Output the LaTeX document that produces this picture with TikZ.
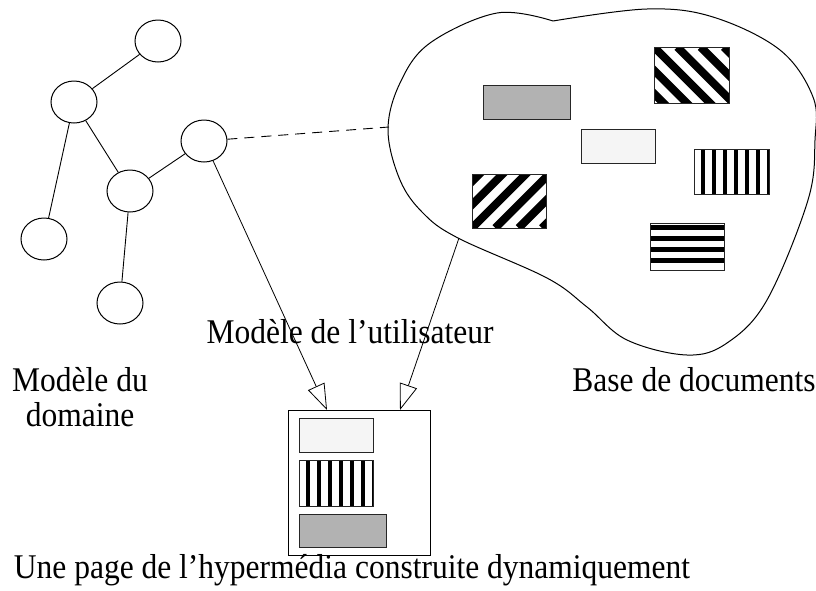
\documentclass[tikz,border=0pt]{standalone}
\usepackage{fontspec}
\usepackage{graphicx}
\setmainfont{Liberation Serif}
\usetikzlibrary{shapes.geometric,arrows.meta}
\newcommand{\talltext}[1]{\scalebox{1}[1.1]{#1}}
\begin{document}
\begin{tikzpicture}[x=1pt,y=-1pt,
  circ/.style={ellipse,draw,line width=1pt,minimum width=46pt,minimum height=42pt,inner sep=0pt},
  edge/.style={line width=0.9pt},
  doc/.style={rectangle,draw=black!85,line width=0.9pt,inner sep=0pt},
  grayfill/.style={fill=black!30},
  lightfill/.style={fill=black!4},
  lbl/.style={font=\fontsize{31.5}{35}\selectfont,inner sep=0pt},
  arr/.style={line width=0.8pt,-{Triangle[open,length=26pt,width=18pt]}},
  vstripes/.style={path picture={\foreach \k in {0,...,6}{\fill[black] ([shift={({6.7+11*\k},0)}]path picture bounding box.north west) rectangle ++(4.7,80);}}},
  hstripes/.style={path picture={\foreach \k in {0,...,3}{\fill[black] ([shift={(0,{2+11*\k})}]path picture bounding box.north west) rectangle ++(90,5);}}},
  dstripesdown/.style={path picture={\foreach \k in {-3,...,4}{\draw[black,line width=8pt] ([shift={({23.3*\k},0)}]path picture bounding box.north west) -- ++(100,100);}}},
  dstripesup/.style={path picture={\foreach \k in {-3,...,4}{\draw[black,line width=8pt] ([shift={({23.3*\k},0)}]path picture bounding box.south west) -- ++(100,-100);}}}
]
\useasboundingbox (0,0) rectangle (816,590);

% domain model graph
\node[circ] (c1) at (158,41) {};
\node[circ] (c2) at (74,102) {};
\node[circ] (c3) at (204,141) {};
\node[circ] (c4) at (130,191) {};
\node[circ] (c5) at (44,239) {};
\node[circ] (c6) at (120,303) {};
\draw[edge] (c1) -- (c2);
\draw[edge] (c2) -- (c5);
\draw[edge] (c2) -- (c4);
\draw[edge] (c4) -- (c3);
\draw[edge] (c4) -- (c6);

% document base blob
\draw[line width=1pt] plot[smooth,tension=0.6] coordinates {(553,21) (647,9) (713,17) (780,50) (813,97) (815,140) (808,200) (767,300) (727,343) (687,355) (627,340) (587,307) (547,278) (458,238) (423,213) (400,180) (388,130) (400,83) (430,43) (497,13) (553,21)};
\coordinate (b1) at (389,127);
\coordinate (b2) at (459,238);

\node[doc,grayfill,minimum width=87pt,minimum height=34pt] (g1) at (526.5,102) {};
\node[doc,fill=white,dstripesdown,minimum width=75pt,minimum height=56pt] (d1) at (691.5,75) {};
\node[doc,lightfill,minimum width=74pt,minimum height=34pt] (l1) at (618,146) {};
\node[doc,fill=white,vstripes,minimum width=75pt,minimum height=45pt] (v1) at (731.5,171.5) {};
\node[doc,fill=white,dstripesup,minimum width=74pt,minimum height=54pt] (d2) at (509,201) {};
\node[doc,fill=white,hstripes,minimum width=74pt,minimum height=47pt] (h1) at (687,246.5) {};

% dynamic page
\node[rectangle,draw,line width=1pt,minimum width=142pt,minimum height=145pt,inner sep=0pt] (page) at (359,482.5) {};
\node[doc,lightfill,minimum width=74pt,minimum height=34pt] (l2) at (336,435) {};
\node[doc,fill=white,vstripes,minimum width=74pt,minimum height=46pt] (v2) at (336,483) {};
\node[doc,grayfill,minimum width=87pt,minimum height=33pt] (g2) at (342.5,530.5) {};
\coordinate (a1) at (327,410);
\coordinate (a2) at (400,410);

% connectors
\draw[line width=0.9pt,dash pattern=on 10pt off 7pt] (c3) -- (b1);
\draw[arr] (c3) -- (a1);
\draw[arr] (b2) -- (a2);

% labels
\node[lbl,anchor=base] (tuser) at (350,343) {\talltext{Modèle de l’utilisateur}};
\node[lbl,align=center] (tdom) at (80,397) {\talltext{Modèle du}\\\talltext{domaine}};
\node[lbl,anchor=base] (tbase) at (694,391) {\talltext{Base de documents}};
\node[lbl,anchor=base] (tpage) at (352,578) {\talltext{Une page de l’hypermédia construite dynamiquement}};
\end{tikzpicture}
\end{document}
